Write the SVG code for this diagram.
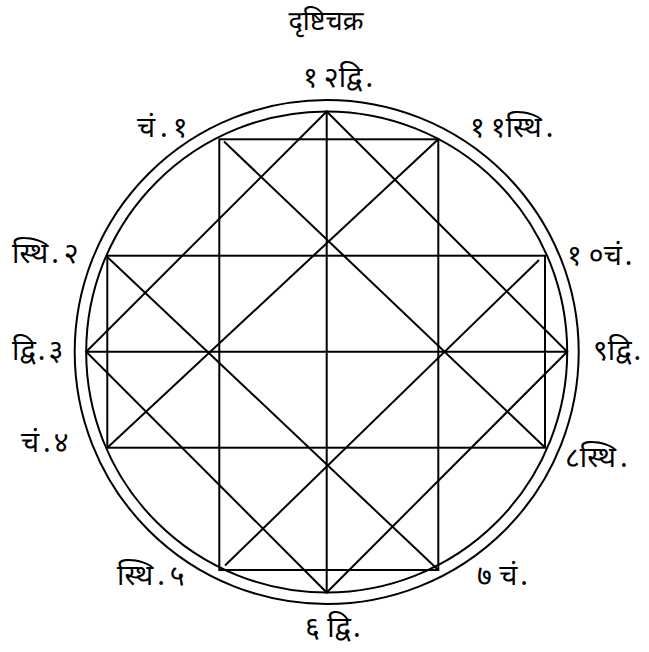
<svg xmlns="http://www.w3.org/2000/svg" width="649" height="652" viewBox="0 0 649 652">
<style>
.ln{fill:none;stroke:#000;stroke-width:2;stroke-linecap:butt}
.lb{font-family:"Noto Sans Devanagari","Lohit Devanagari","Noto Sans","DejaVu Sans",sans-serif;font-size:28.5px;fill:#000}
.tt{font-family:"Noto Sans Devanagari","Lohit Devanagari","Noto Sans","DejaVu Sans",sans-serif;font-size:27px;fill:#000}
</style>
<rect width="649" height="652" fill="#fff"/>
<g id="title"><text class="tt" x="326" y="30" text-anchor="middle">दृष्टिचक्र</text></g>
<g id="circles">
<circle class="ln" cx="326.7" cy="352" r="252"/>
<circle class="ln" cx="326.7" cy="352" r="240.5"/>
</g>
<g id="connectors">
<line class="ln" x1="326.7" y1="111.5" x2="326.7" y2="592.5"/>
<line class="ln" x1="86.2" y1="351.7" x2="567.2" y2="351.7"/>
<rect class="ln" x="219.3" y="139.3" width="219" height="430.7"/>
<rect class="ln" x="107.3" y="255.7" width="437.7" height="192"/>
<polygon class="ln" points="326.7,111.5 567.2,351.7 326.7,592.5 86.2,351.7"/>
<line class="ln" x1="224" y1="141.5" x2="545" y2="447.5"/>
<line class="ln" x1="438.3" y1="139.3" x2="107.3" y2="447.7"/>
<line class="ln" x1="107.3" y1="257" x2="438.3" y2="570"/>
<line class="ln" x1="539" y1="260" x2="225" y2="565.5"/>
</g>
<g id="labels">
<text class="lb" x="303" y="87">१<tspan dx="6">२</tspan>द्वि<tspan dx="3">.</tspan></text>
<text class="lb" x="137" y="137">चं<tspan dx="5">.</tspan><tspan dx="5">१</tspan></text>
<text class="lb" x="470" y="137">१<tspan dx="6">१</tspan>स्थि<tspan dx="4">.</tspan></text>
<text class="lb" x="12" y="263">स्थि<tspan dx="3">.</tspan><tspan dx="5">२</tspan></text>
<text class="lb" x="567" y="265">१<tspan dx="7">०</tspan>चं<tspan dx="3">.</tspan></text>
<text class="lb" x="12" y="360">द्वि<tspan dx="2">.</tspan><tspan dx="3">३</tspan></text>
<text class="lb" x="593" y="360">९द्वि<tspan dx="2">.</tspan></text>
<text class="lb" x="21" y="452">चं<tspan dx="4">.</tspan><tspan dx="3">४</tspan></text>
<text class="lb" x="565" y="467">८स्थि<tspan dx="4">.</tspan></text>
<text class="lb" x="117" y="585">स्थि<tspan dx="4">.</tspan><tspan dx="5">५</tspan></text>
<text class="lb" x="477" y="585">७ चं<tspan dx="3">.</tspan></text>
<text class="lb" x="305" y="637">६ द्वि<tspan dx="2">.</tspan></text>
</g>
</svg>
